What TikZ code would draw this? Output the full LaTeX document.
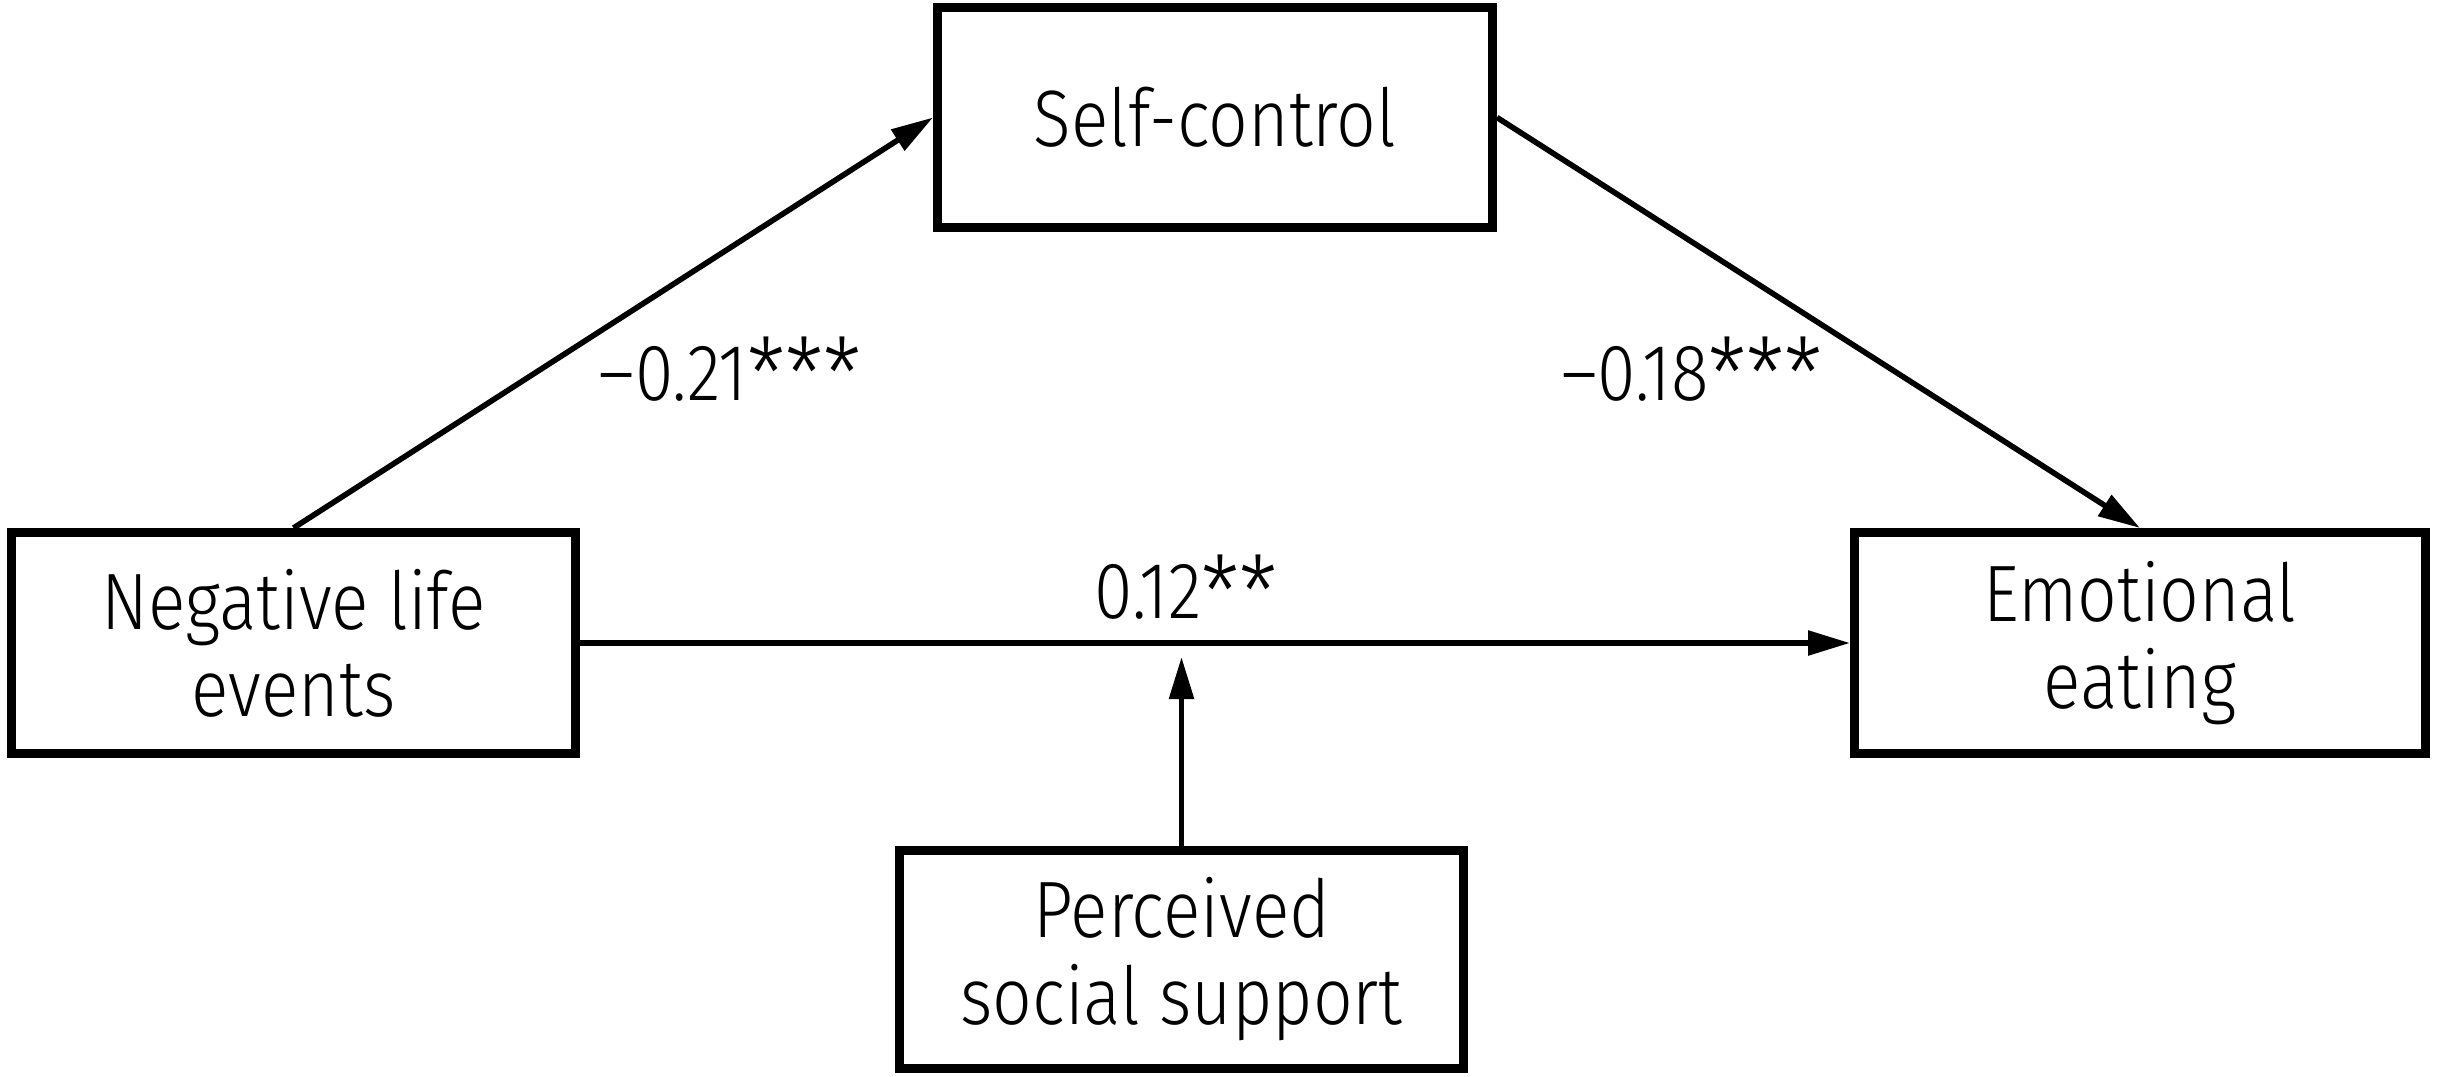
\documentclass[tikz,border=0pt]{standalone}
\usepackage{fontspec}
\setmainfont{Fira Sans Light}[FakeStretch=0.87]
\usetikzlibrary{arrows.meta}
\newcommand\bigstar{\raisebox{-0.13em}{\scalebox{1.25}{*}}}
\begin{document}
\begin{tikzpicture}[x=0.5pt,y=-0.5pt,
  varbox/.style={draw=black, line width=4.5pt, fill=white, inner sep=0pt, align=center,
    font=\fontsize{40}{43.5}\selectfont},
  path/.style={line width=2.8pt, -{Triangle[length=21pt,width=12pt]}},
  coef/.style={anchor=base, inner sep=0pt, font=\fontsize{40}{43.5}\selectfont}]
\useasboundingbox (0,0) rectangle (2438,1077);
\node[varbox, minimum width=282pt, minimum height=110.5pt] (neg) at (293.5,643) {Negative life\\events};
\node[varbox, minimum width=277.5pt, minimum height=110pt] (self) at (1215,117.5) {Self-control};
\node[varbox, minimum width=285.5pt, minimum height=110.5pt] (emo) at (2140,643) {Emotional\\eating};
\node[varbox, minimum width=282pt, minimum height=109pt] (perc) at (1181.5,959.5) {Perceived\\social support};
\coordinate (tip) at (1181.5,657);
\draw[path] (neg.north) -- (self.west);
\draw[path] (self.east) -- (emo.north);
\draw[path] (neg.east) -- (emo.west);
\draw[path] (perc.north) -- (tip);
\node[coef] (a) at (730,400) {–0.21\bigstar\bigstar\bigstar};
\node[coef] (b) at (1692,400) {–0.18\bigstar\bigstar\bigstar};
\node[coef] (c) at (1186,618) {0.12\bigstar\bigstar};
\end{tikzpicture}
\end{document}
